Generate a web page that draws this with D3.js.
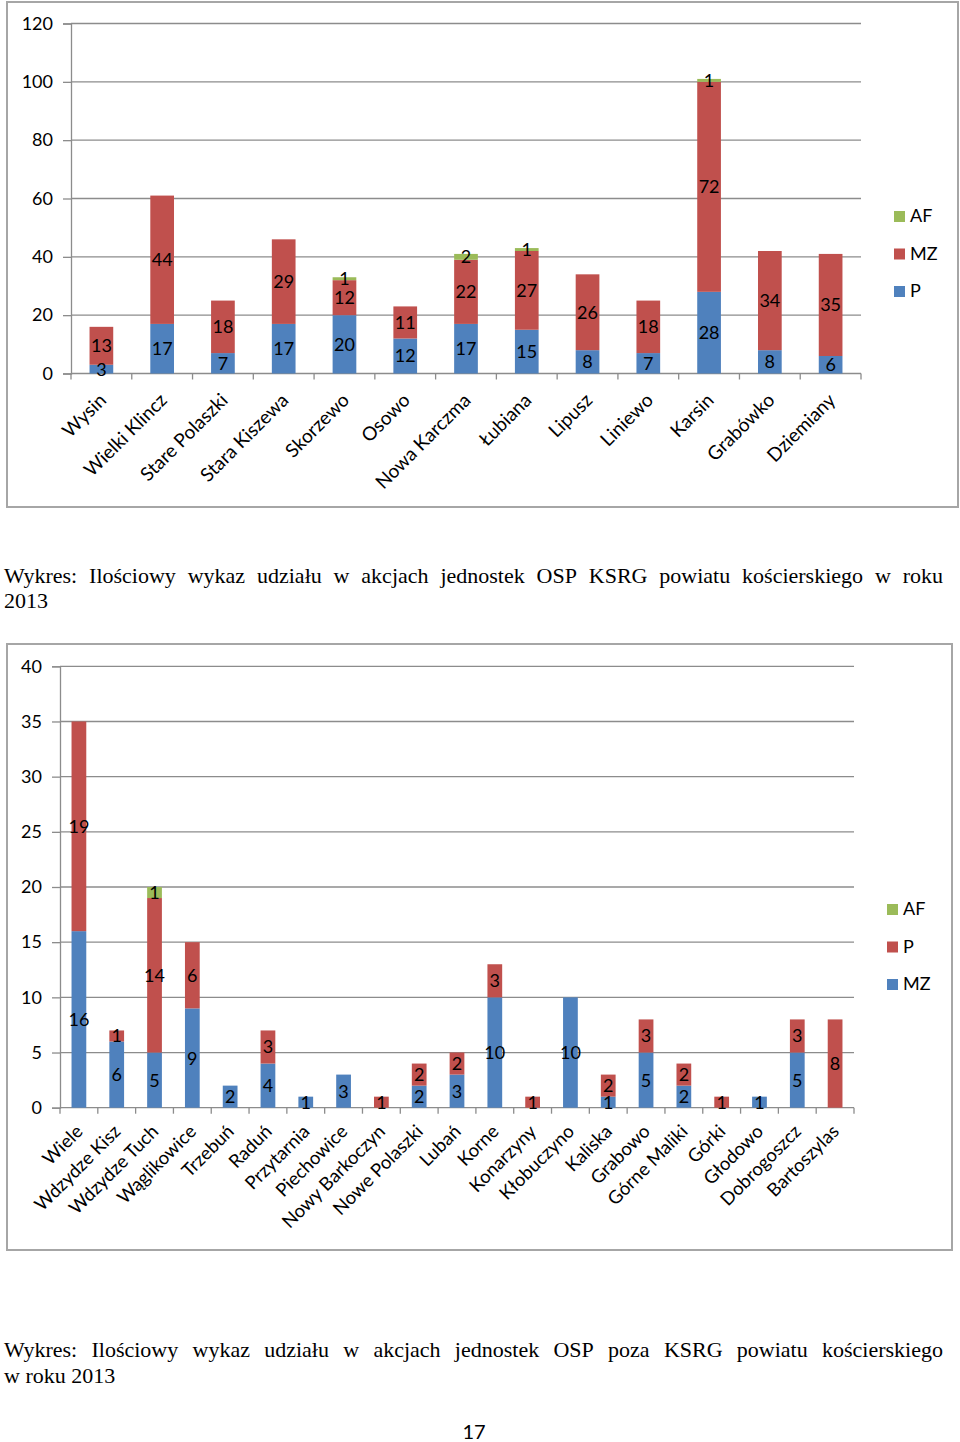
<!DOCTYPE html>
<html><head><meta charset="utf-8">
<script src="https://cdn.jsdelivr.net/npm/d3@7"></script>
<style>
html,body{margin:0;padding:0;background:#fff;}
svg{display:block;}
</style></head>
<body>
<svg id="page" width="960" height="1442"></svg>
<script>
// ---------- DATA: chart 1 (OSP KSRG) ----------
const cats1 = ["Wysin","Wielki Klincz","Stare Polaszki","Stara Kiszewa","Skorzewo","Osowo","Nowa Karczma","Łubiana","Lipusz","Liniewo","Karsin","Grabówko","Dziemiany"];
const p1  = [3,17,7,17,20,12,17,15,8,7,28,8,6];
const mz1 = [13,44,18,29,12,11,22,27,26,18,72,34,35];
const af1 = [0,0,0,0,1,0,2,1,0,0,1,0,0];
const ticks1 = [0,20,40,60,80,100,120];
const series1 = ["P","MZ","AF"];          // stacking order, bottom to top
const legend1 = ["AF","MZ","P"];          // legend order, top to bottom

// ---------- DATA: chart 2 (OSP poza KSRG) ----------
const cats2 = ["Wiele","Wdzydze Kisz","Wdzydze Tuch","Wąglikowice","Trzebuń","Raduń","Przytarnia","Piechowice","Nowy Barkoczyn","Nowe Polaszki","Lubań","Korne","Konarzyny","Kłobuczyno","Kaliska","Grabowo","Górne Maliki","Górki","Głodowo","Dobrogoszcz","Bartoszylas"];
const mz2 = [16,6,5,9,2,4,1,3,0,2,3,10,0,10,1,5,2,0,1,5,0];
const p2  = [19,1,14,6,0,3,0,0,1,2,2,3,1,0,2,3,2,1,0,3,8];
const af2 = [0,0,1,0,0,0,0,0,0,0,0,0,0,0,0,0,0,0,0,0,0];
const ticks2 = [0,5,10,15,20,25,30,35,40];
const series2 = ["MZ","P","AF"];
const legend2 = ["AF","P","MZ"];

const caption1 = "Wykres: Ilościowy wykaz udziału w akcjach jednostek OSP KSRG powiatu kościerskiego w roku";
const caption1b = "2013";
const caption2 = "Wykres: Ilościowy wykaz udziału w akcjach jednostek OSP poza KSRG powiatu kościerskiego";
const caption2b = "w roku 2013";
const pageNo = "17";

const BLUE="#4F81BD", RED="#C0504D", GREEN="#9BBB59";

const svg = d3.select("#page");
const FONT = "Lato, 'Open Sans', sans-serif";

function drawChart(cfg){
  const g = svg.append("g");
  // frame
  g.append("rect").attr("x",cfg.frame[0]).attr("y",cfg.frame[1])
    .attr("width",cfg.frame[2]-cfg.frame[0]).attr("height",cfg.frame[3]-cfg.frame[1])
    .attr("fill","#fff").attr("stroke","#a6a6a6").attr("stroke-width",2);

  const x = d3.scaleBand().domain(cfg.cats).range([cfg.x0,cfg.x1]).padding(0);
  const y = d3.scaleLinear().domain([0,cfg.ticks[cfg.ticks.length-1]]).range([cfg.y0,cfg.y1]);

  // gridlines
  g.append("g").selectAll("line").data(cfg.ticks.slice(1)).join("line")
    .attr("x1",cfg.x0).attr("x2",cfg.x1)
    .attr("y1",d=>y(d)).attr("y2",d=>y(d))
    .attr("stroke","#8c8c8c").attr("stroke-width",1.3);

  // y axis
  const ya = d3.axisLeft(y).tickValues(cfg.ticks).tickSize(8).tickPadding(cfg.yPad);
  const yg = g.append("g").attr("transform",`translate(${cfg.x0},0)`).call(ya);
  yg.select(".domain").attr("stroke","#8c8c8c").attr("stroke-width",1.3);
  yg.selectAll(".tick line").attr("stroke","#8c8c8c").attr("stroke-width",1.3);
  yg.selectAll(".tick text").attr("font-family",FONT).attr("font-size",18).attr("fill","#000");

  // x axis: baseline + ticks at band boundaries
  g.append("line").attr("x1",cfg.x0).attr("x2",cfg.x1).attr("y1",cfg.y0).attr("y2",cfg.y0)
    .attr("stroke","#8c8c8c").attr("stroke-width",1.3);
  const bounds = cfg.cats.map(c=>x(c)).concat([cfg.x1]);
  g.append("g").selectAll("line").data(bounds).join("line")
    .attr("x1",d=>d).attr("x2",d=>d).attr("y1",cfg.y0).attr("y2",cfg.y0+6)
    .attr("stroke","#8c8c8c").attr("stroke-width",1.3);

  // stacked data
  const rows = cfg.cats.map((c,i)=>{const r={cat:c}; cfg.series.forEach(s=>r[s]=cfg.values[s][i]); return r;});
  const stack = d3.stack().keys(cfg.series)(rows);
  const bw = x.bandwidth()*cfg.barFrac;
  const layers = g.append("g").selectAll("g").data(stack).join("g")
    .attr("fill",d=>cfg.colors[d.key]);
  layers.selectAll("rect").data(d=>d.filter(v=>v[1]-v[0]>0)).join("rect")
    .attr("x",d=>x(d.data.cat)+x.bandwidth()/2-bw/2)
    .attr("width",bw)
    .attr("y",d=>y(d[1]))
    .attr("height",d=>y(d[0])-y(d[1]));

  // labels
  const lab = g.append("g");
  stack.forEach(layer=>{
    layer.forEach(v=>{
      const val=v[1]-v[0];
      if(val<=0) return;
      lab.append("text")
        .attr("x",x(v.data.cat)+x.bandwidth()/2)
        .attr("y",y((v[0]+v[1])/2))
        .attr("dy","0.36em")
        .attr("text-anchor","middle")
        .attr("font-family",FONT).attr("font-size",18).attr("fill","#000")
        .text(val);
    });
  });

  // category labels
  g.append("g").selectAll("text").data(cfg.cats).join("text")
    .attr("transform",d=>`translate(${x(d)+x.bandwidth()/2+cfg.lblDx},${cfg.y0+cfg.lblDy}) rotate(-45)`)
    .attr("text-anchor","end")
    .attr("font-family",FONT).attr("font-size",cfg.lblSize).attr("fill","#000")
    .text(d=>d);

  // legend
  const lg = g.append("g");
  cfg.legend.forEach((s,i)=>{
    const yy = cfg.legPos[1]+i*cfg.legStep;
    lg.append("rect").attr("x",cfg.legPos[0]).attr("y",yy).attr("width",11).attr("height",11).attr("fill",cfg.colors[s]);
    lg.append("text").attr("x",cfg.legPos[0]+16).attr("y",yy+11)
      .attr("font-family",FONT).attr("font-size",18).attr("fill","#000").text(s);
  });
}

drawChart({
  frame:[7,2,958,507], cats:cats1, ticks:ticks1,
  x0:71, x1:861, y0:373.5, y1:23.5, yPad:10,
  series:series1, values:{P:p1,MZ:mz1,AF:af1},
  colors:{P:BLUE,MZ:RED,AF:GREEN}, barFrac:0.39,
  lblDx:6, lblDy:28, lblSize:19, legend:legend1, legPos:[894,211], legStep:37.5
});

drawChart({
  frame:[7,644,952,1250], cats:cats2, ticks:ticks2,
  x0:60, x1:854, y0:1107.7, y1:666.3, yPad:10,
  series:series2, values:{MZ:mz2,P:p2,AF:af2},
  colors:{MZ:BLUE,P:RED,AF:GREEN}, barFrac:0.39,
  lblDx:5, lblDy:25, lblSize:18.5, legend:legend2, legPos:[887,904], legStep:37.5
});

// captions (justified)
const SERIF = "'Liberation Serif','Times New Roman',serif";
const CAP = 22;
function justified(text, x0, x1, yb){
  const words = text.split(" ");
  const t = svg.append("g");
  const nodes = words.map(w=>t.append("text").attr("font-family",SERIF).attr("font-size",CAP).attr("fill","#000").attr("y",yb).text(w));
  const widths = nodes.map(n=>n.node().getComputedTextLength());
  const total = d3.sum(widths);
  const gap = (x1-x0-total)/(words.length-1);
  let cx = x0;
  nodes.forEach((n,i)=>{n.attr("x",cx); cx += widths[i]+gap;});
}
function plain(text,x,yb){
  svg.append("text").attr("x",x).attr("y",yb).attr("font-family",SERIF).attr("font-size",CAP).attr("fill","#000").text(text);
}
justified(caption1,4,943,583);
plain(caption1b,4,608);
justified(caption2,4,943,1357);
plain(caption2b,4,1383);
svg.append("text").attr("x",474).attr("y",1439).attr("text-anchor","middle")
  .attr("font-family",FONT).attr("font-size",20).attr("fill","#000").text(pageNo);
</script>
</body></html>
